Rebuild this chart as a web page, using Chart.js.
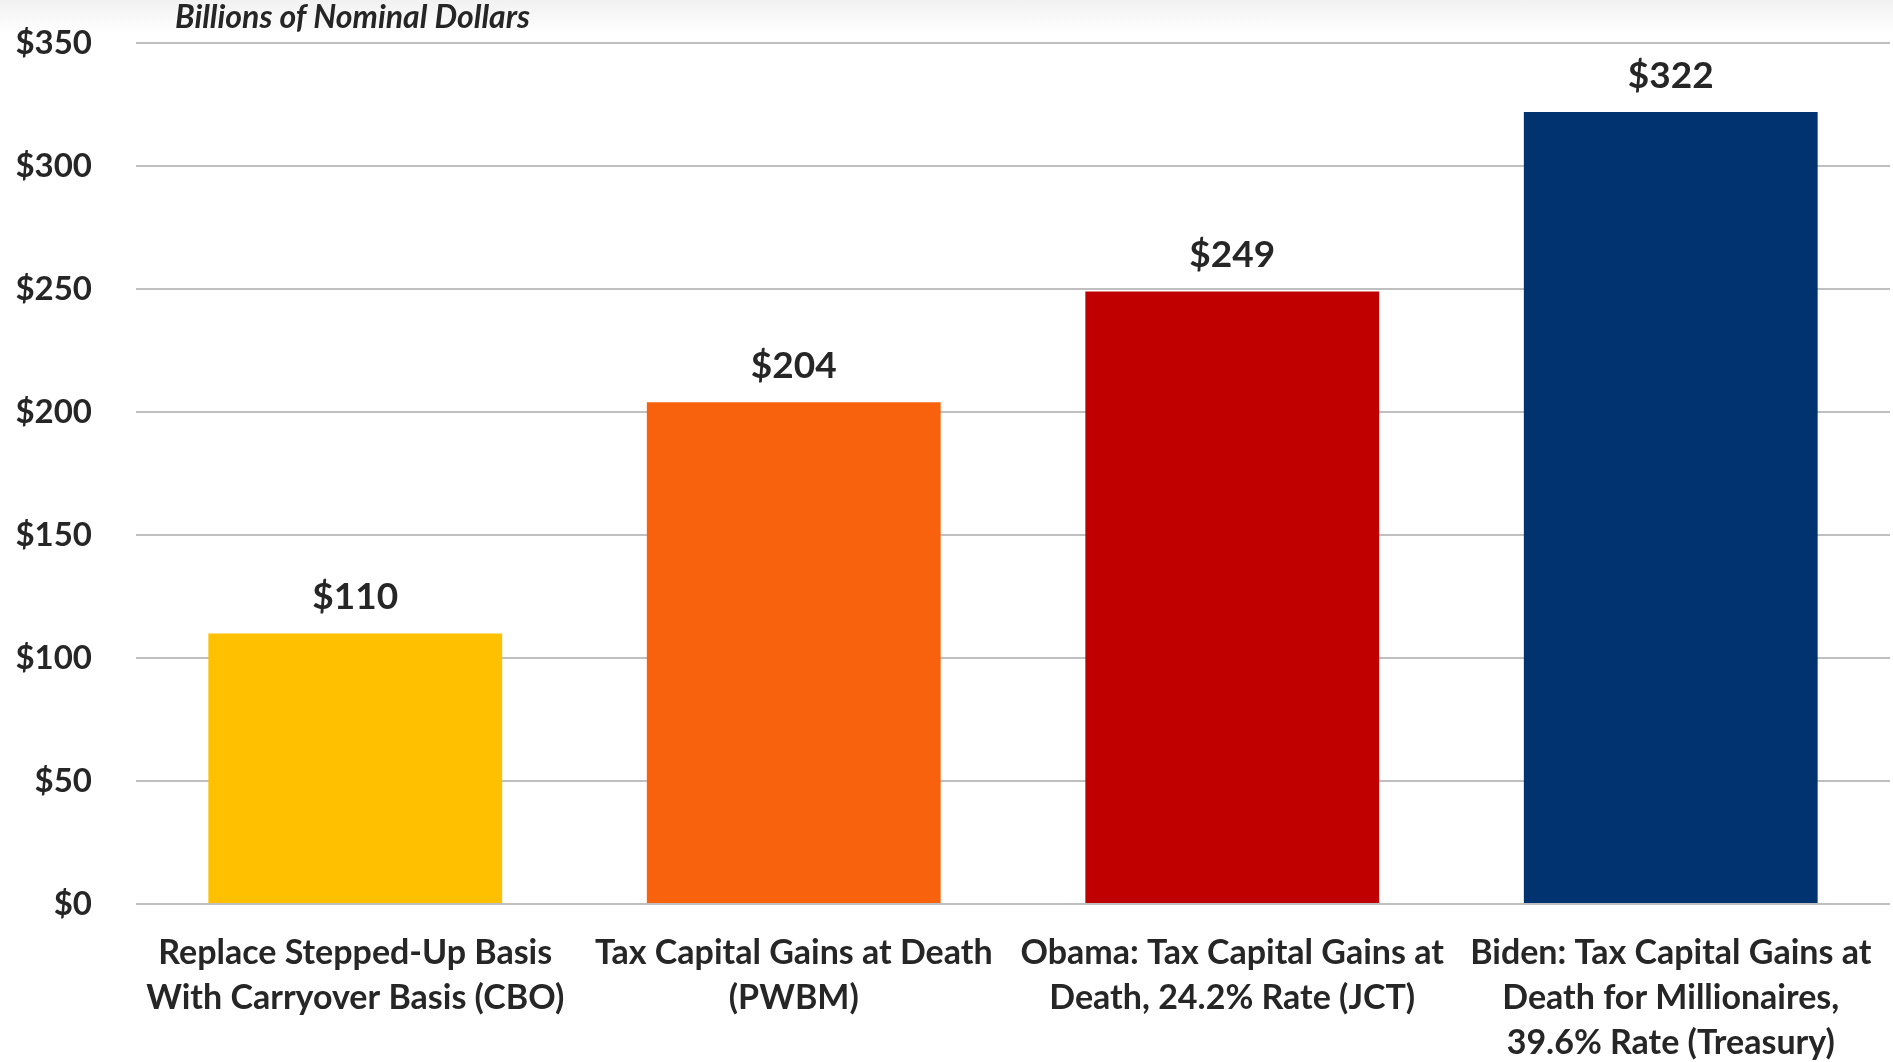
<!DOCTYPE html>
<html>
<head>
<meta charset="utf-8">
<script src="https://cdn.jsdelivr.net/npm/chart.js@4"></script>
<style>
  html, body { margin: 0; padding: 0; }
  body { background: linear-gradient(to bottom, #f1f1f1 0px, #ffffff 34px, #ffffff 100%); }
  #wrap { width: 1893px; height: 1062px; }
</style>
</head>
<body>
<div id="wrap"><canvas id="revenueChart"></canvas></div>
<script>
const proposals = [
    ['Replace Stepped-Up Basis', 'With Carryover Basis (CBO)'],
    ['Tax Capital Gains at Death', '(PWBM)'],
    ['Obama: Tax Capital Gains at', 'Death, 24.2% Rate (JCT)'],
    ['Biden: Tax Capital Gains at', 'Death for Millionaires,', '39.6% Rate (Treasury)']
];
const revenue = [110, 204, 249, 322];
const barColors = ['#FFC000', '#F8620C', '#C00000', '#00336F'];
const yTicks = [0, 50, 100, 150, 200, 250, 300, 350];
const unitsNote = 'Billions of Nominal Dollars';

const textColor = '#262626';
const fontFamily = 'Lato, "Open Sans", sans-serif';

// dollar values over each bar
const valueLabels = {
    id: 'valueLabels',
    afterDatasetsDraw(chart) {
        const ctx = chart.ctx;
        const meta = chart.getDatasetMeta(0);
        ctx.save();
        ctx.fillStyle = textColor;
        ctx.font = 'bold 37px ' + fontFamily;
        ctx.textAlign = 'center';
        ctx.textBaseline = 'middle';
        meta.data.forEach((bar, i) => {
            ctx.fillText('$' + revenue[i], bar.x, bar.y - 36);
        });
        ctx.restore();
    }
};

// italic units note above the plot
const unitsLabel = {
    id: 'unitsLabel',
    afterDraw(chart) {
        const ctx = chart.ctx;
        ctx.save();
        ctx.fillStyle = textColor;
        ctx.font = 'italic bold 32px ' + fontFamily;
        ctx.textAlign = 'left';
        ctx.textBaseline = 'middle';
        ctx.fillText(unitsNote, chart.chartArea.left + 39, 18);
        ctx.restore();
    }
};

const ctx = document.getElementById('revenueChart').getContext('2d');
new Chart(ctx, {
    type: 'bar',
    data: {
        labels: proposals,
        datasets: [{
            data: revenue,
            backgroundColor: barColors,
            borderWidth: 0,
            categoryPercentage: 1,
            barPercentage: 0.67
        }]
    },
    options: {
        responsive: true,
        maintainAspectRatio: false,
        animation: false,
        layout: { padding: { top: 43, right: 3, bottom: 0, left: 0 } },
        plugins: {
            legend: { display: false },
            tooltip: { enabled: false }
        },
        scales: {
            y: {
                min: 0,
                max: 350,
                afterBuildTicks(scale) {
                    scale.ticks = yTicks.map(v => ({ value: v }));
                },
                afterFit(scale) {
                    scale.width = 136;
                    scale.paddingTop = 0;
                    scale.paddingBottom = 0;
                },
                border: { display: false },
                grid: { color: '#BFBFBF', lineWidth: 2, drawTicks: false },
                ticks: {
                    padding: 44,
                    color: textColor,
                    font: { family: fontFamily, size: 33, weight: 'bold' },
                    callback: v => '$' + v
                }
            },
            x: {
                afterFit(scale) {
                    scale.height = 158;
                    scale.paddingLeft = 0;
                    scale.paddingRight = 0;
                },
                border: { display: false },
                grid: { display: false, drawTicks: false },
                ticks: {
                    padding: 27,
                    autoSkip: false,
                    maxRotation: 0,
                    color: textColor,
                    font: { family: fontFamily, size: 34, weight: 'bold', lineHeight: 1.32 }
                }
            }
        }
    },
    plugins: [valueLabels, unitsLabel]
});
</script>
</body>
</html>
